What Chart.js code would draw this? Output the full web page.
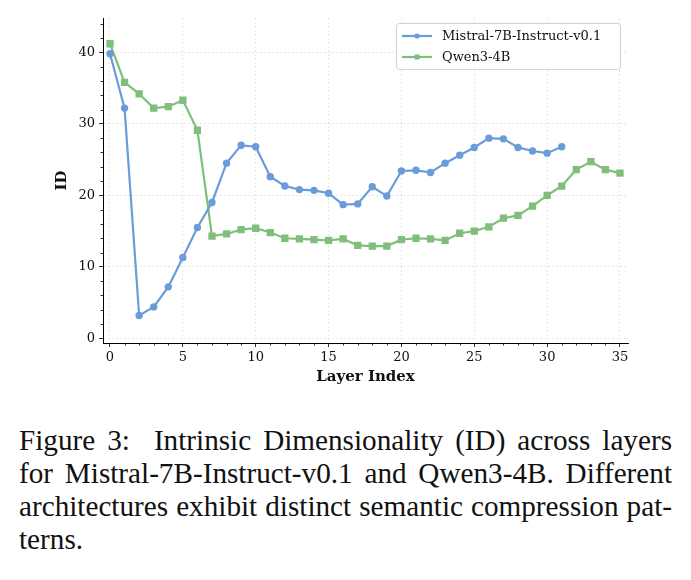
<!DOCTYPE html>
<html>
<head>
<meta charset="utf-8">
<script src="https://cdn.jsdelivr.net/npm/chart.js@4"></script>
<style>
  html, body { margin: 0; padding: 0; background: #fff; }
  #wrap { position: relative; width: 691px; height: 580px; }
  #chartBox { position: absolute; left: 0; top: 0; width: 691px; height: 395px; }
  #caption {
    position: absolute; left: 19px; top: 424px; width: 653px;
    font-family: "Liberation Serif", "Times New Roman", serif;
    font-size: 29.2px; line-height: 33px; color: #111;
  }
  #caption div { white-space: nowrap; text-align: justify; text-align-last: justify; }
  #caption div.last { text-align: left; text-align-last: left; }
</style>
</head>
<body>
<div id="wrap">
  <div id="chartBox"><canvas id="lineChart"></canvas></div>
  <div id="caption">
    <div>Figure 3:&nbsp; Intrinsic Dimensionality (ID) across layers</div>
    <div>for Mistral-7B-Instruct-v0.1 and Qwen3-4B. Different</div>
    <div>architectures exhibit distinct semantic compression pat-</div>
    <div class="last">terns.</div>
  </div>
</div>
<script>
const layers = [0, 1, 2, 3, 4, 5, 6, 7, 8, 9, 10, 11, 12, 13, 14, 15, 16, 17,
  18, 19, 20, 21, 22, 23, 24, 25, 26, 27, 28, 29, 30, 31, 32, 33, 34, 35];

const mistralID = [39.8, 32.2, 3.2, 4.4, 7.2, 11.3, 15.5, 19.0, 24.5, 27.0,
  26.8, 22.6, 21.3, 20.8, 20.7, 20.3, 18.7, 18.8, 21.2, 19.9, 23.4, 23.5,
  23.2, 24.5, 25.6, 26.7, 28.0, 27.9, 26.7, 26.2, 25.9, 26.8];

const qwenID = [41.2, 35.8, 34.2, 32.2, 32.4, 33.3, 29.1, 14.3, 14.6, 15.2,
  15.4, 14.8, 14.0, 13.9, 13.8, 13.7, 13.9, 13.0, 12.9, 12.9, 13.8, 14.0,
  13.9, 13.7, 14.7, 15.0, 15.6, 16.8, 17.2, 18.5, 20.0, 21.3, 23.6, 24.7,
  23.6, 23.1];

const xTicks = [0, 5, 10, 15, 20, 25, 30, 35];
const yTicks = [0, 10, 20, 30, 40];

const tickFont = { family: "'DejaVu Serif', serif", size: 13 };
const titleFont = { family: "'DejaVu Serif', serif", size: 15, weight: 'bold' };

// matplotlib-style minor ticks (shorter than the major ones)
const minorTicks = {
  id: 'minorTicks',
  afterDraw(chart) {
    const ctx = chart.ctx;
    const xs = chart.scales.x, ys = chart.scales.y;
    const area = chart.chartArea;
    ctx.save();
    ctx.strokeStyle = '#000';
    ctx.lineWidth = 0.8;
    ctx.beginPath();
    for (let v = Math.ceil(xs.min); v <= xs.max; v++) {
      if (xTicks.includes(v)) continue;
      const px = Math.round(xs.getPixelForValue(v)) + 0.5;
      ctx.moveTo(px, area.bottom);
      ctx.lineTo(px, area.bottom + 2.5);
    }
    for (let v = Math.ceil(ys.min / 2) * 2; v <= ys.max; v += 2) {
      if (yTicks.includes(v)) continue;
      const py = Math.round(ys.getPixelForValue(v)) + 0.5;
      ctx.moveTo(area.left, py);
      ctx.lineTo(area.left - 2.5, py);
    }
    ctx.stroke();
    ctx.restore();
  }
};

// legend box in the upper right, like the matplotlib one
const boxLegend = {
  id: 'boxLegend',
  afterDraw(chart) {
    const ctx = chart.ctx;
    const x0 = 396, y0 = 23, w = 224, h = 46;
    ctx.save();
    ctx.fillStyle = 'rgba(255,255,255,0.8)';
    ctx.strokeStyle = '#d0d0d0';
    ctx.lineWidth = 1;
    ctx.beginPath();
    ctx.roundRect(x0 + 0.5, y0 + 0.5, w, h, 3);
    ctx.fill();
    ctx.stroke();
    chart.data.datasets.forEach((ds, i) => {
      const y = y0 + 13 + i * 21;
      ctx.strokeStyle = ds.borderColor;
      ctx.lineWidth = ds.borderWidth;
      ctx.beginPath();
      ctx.moveTo(402, y);
      ctx.lineTo(432, y);
      ctx.stroke();
      ctx.fillStyle = ds.backgroundColor;
      if (ds.pointStyle === 'rect') {
        ctx.fillRect(417 - 2.5, y - 2.5, 5, 5);
      } else {
        ctx.beginPath();
        ctx.arc(417, y, 2.6, 0, Math.PI * 2);
        ctx.fill();
      }
      ctx.fillStyle = '#111';
      ctx.font = "13px 'DejaVu Serif', serif";
      ctx.textBaseline = 'middle';
      ctx.fillText(ds.label, 442, y + 0.5);
    });
    ctx.restore();
  }
};

function majorGrid(list) {
  return (c) => list.includes(c.tick && c.tick.value) ? 'rgba(0,0,0,0.12)' : 'rgba(0,0,0,0)';
}

let lineCtx = document.getElementById('lineChart');

let lineConfig = {
  type: 'line',
  data: {
    labels: layers,
    datasets: [{
      label: 'Mistral-7B-Instruct-v0.1',
      data: mistralID,
      borderColor: '#6b9cda',
      backgroundColor: '#6b9cda',
      borderWidth: 2.2,
      pointStyle: 'circle',
      pointRadius: 2.6,
      pointHoverRadius: 2.6,
      tension: 0,
    }, {
      label: 'Qwen3-4B',
      data: qwenID,
      borderColor: '#7fbf7b',
      backgroundColor: '#7fbf7b',
      borderWidth: 2.2,
      pointStyle: 'rect',
      pointRadius: 3.6,
      pointHoverRadius: 3.6,
      tension: 0,
    }],
  },
  options: {
    responsive: true,
    maintainAspectRatio: false,
    animation: false,
    layout: { padding: { top: 18, right: 63, left: 0, bottom: 0 } },
    plugins: {
      legend: { display: false },
      tooltip: { enabled: false },
    },
    scales: {
      x: {
        type: 'linear',
        min: -0.48,
        max: 35.55,
        afterBuildTicks: (scale) => { scale.ticks = xTicks.map(v => ({ value: v })); },
        afterFit: (scale) => { scale.height = 52; },
        ticks: {
          autoSkip: false,
          maxRotation: 0,
          padding: 3,
          color: '#111',
          font: tickFont,
          callback: (v) => String(v),
        },
        grid: {
          color: majorGrid(xTicks),
          lineWidth: 0.8,
          tickColor: '#000',
          tickLength: 4,
          tickWidth: 0.8,
        },
        border: { display: true, color: '#000', width: 1, dash: [2, 2] },
        title: {
          display: true,
          text: 'Layer Index',
          color: '#111',
          font: titleFont,
          padding: { top: 0, bottom: 9 },
        },
      },
      y: {
        min: -0.65,
        max: 44.8,
        afterBuildTicks: (scale) => { scale.ticks = yTicks.map(v => ({ value: v })); },
        afterFit: (scale) => { scale.width = 103; },
        ticks: {
          autoSkip: false,
          padding: 4,
          color: '#111',
          font: tickFont,
          callback: (v) => String(v),
        },
        grid: {
          color: majorGrid(yTicks),
          lineWidth: 0.8,
          tickColor: '#000',
          tickLength: 4,
          tickWidth: 0.8,
        },
        border: { display: true, color: '#000', width: 1, dash: [2, 2] },
        title: {
          display: true,
          text: 'ID',
          color: '#111',
          font: titleFont,
          padding: { top: 53, bottom: 0 },
        },
      },
    },
  },
  plugins: [minorTicks, boxLegend],
};

window.lineChartInstance = new Chart(lineCtx, lineConfig);
</script>
</body>
</html>
